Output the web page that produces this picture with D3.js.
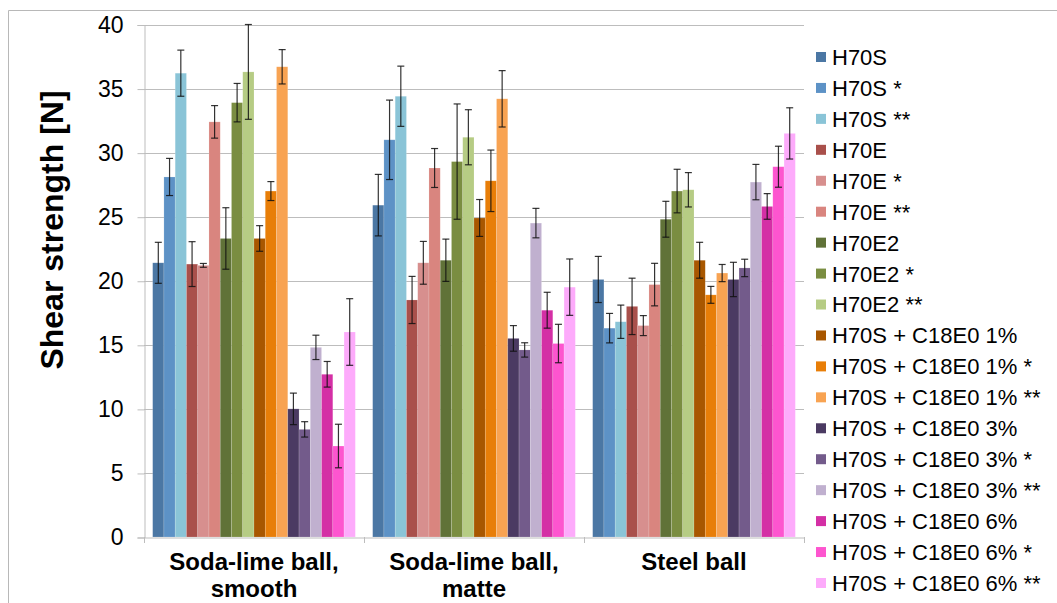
<!DOCTYPE html>
<html>
<head>
<meta charset="utf-8">
<script src="https://cdn.jsdelivr.net/npm/d3@7"></script>
<style>
  html, body { margin: 0; padding: 0; background: #fff; }
  svg { display: block; }
  text { font-family: "Liberation Sans", Arial, Helvetica, sans-serif; fill: #000; }
</style>
</head>
<body>
<svg id="chart" width="1057" height="603"></svg>
<script>
// ---------- data ----------
const categories = ["Soda-lime ball, smooth", "Soda-lime ball, matte", "Steel ball"];
const categoryLines = [["Soda-lime ball,", "smooth"], ["Soda-lime ball,", "matte"], ["Steel ball"]];
const series = [
  "H70S", "H70S *", "H70S **",
  "H70E", "H70E *", "H70E **",
  "H70E2", "H70E2 *", "H70E2 **",
  "H70S + C18E0 1%", "H70S + C18E0 1% *", "H70S + C18E0 1% **",
  "H70S + C18E0 3%", "H70S + C18E0 3% *", "H70S + C18E0 3% **",
  "H70S + C18E0 6%", "H70S + C18E0 6% *", "H70S + C18E0 6% **"
];
const colors = [
  "#4b77a4", "#5d92c6", "#8ac4d7",
  "#a9504b", "#d78f8e", "#d9857f",
  "#607238", "#7a8d41", "#b6cc84",
  "#a85700", "#e87e08", "#f8a352",
  "#4b3a62", "#735b8b", "#c0b0cf",
  "#d42fa5", "#fd55cf", "#fdabfb"
];
const valuesSmooth = [21.4, 28.1, 36.2, 21.3, 21.2, 32.4, 23.3, 33.9, 36.3, 23.3, 27.0, 36.7, 10.0, 8.4, 14.8, 12.7, 7.1, 16.0];
const errorsSmooth = [1.6, 1.45, 1.8, 1.75, 0.15, 1.27, 2.4, 1.5, 3.7, 1.0, 0.74, 1.34, 1.23, 0.6, 0.95, 1.0, 1.7, 2.6];
const valuesMatte = [25.9, 31.0, 34.4, 18.5, 21.4, 28.8, 21.6, 29.3, 31.2, 24.9, 27.8, 34.2, 15.5, 14.6, 24.5, 17.7, 15.1, 19.5];
const errorsMatte = [2.4, 3.1, 2.35, 1.84, 1.67, 1.52, 1.65, 4.5, 2.15, 1.44, 2.4, 2.2, 1.0, 0.56, 1.15, 1.4, 1.5, 2.2];
const valuesSteel = [20.1, 16.3, 16.8, 18.0, 16.5, 19.7, 24.8, 27.0, 27.1, 21.6, 18.9, 20.6, 20.1, 21.0, 27.7, 25.8, 28.9, 31.5];
const errorsSteel = [1.8, 1.15, 1.3, 2.2, 0.78, 1.66, 1.4, 1.7, 1.34, 1.4, 0.66, 0.67, 1.34, 0.68, 1.38, 1.0, 1.6, 2.0];
const yTicks = [0, 5, 10, 15, 20, 25, 30, 35, 40];
const yTitle = "Shear strength [N]";

const groupValues = [valuesSmooth, valuesMatte, valuesSteel];
const groupErrors = [errorsSmooth, errorsMatte, errorsSteel];

// ---------- layout ----------
const svg = d3.select("#chart");
const plot = { left: 144, right: 804, top: 24.5, bottom: 537 };

const y = d3.scaleLinear().domain([0, 40]).range([plot.bottom, plot.top]);
const x0 = d3.scaleBand().domain(categories).range([plot.left, plot.right]).padding(0);
const x1 = d3.scaleBand().domain(series).range([0, x0.bandwidth()]).paddingInner(0).paddingOuter(0.77);
const color = d3.scaleOrdinal().domain(series).range(colors);

// outer chart border
svg.append("path")
  .attr("d", `M8.5,603 L8.5,10.5 L1057,10.5`)
  .attr("fill", "none").attr("stroke", "#b8b8b8").attr("stroke-width", 1);

// gridlines
svg.append("g").selectAll("line").data(yTicks.filter(d => d > 0)).join("line")
  .attr("x1", plot.left).attr("x2", plot.right)
  .attr("y1", d => Math.round(y(d)) + 0.5).attr("y2", d => Math.round(y(d)) + 0.5)
  .attr("stroke", "#bdbdbd").attr("stroke-width", 1);

// y axis
const yAxis = d3.axisLeft(y).tickValues(yTicks).tickSize(7).tickPadding(14).tickFormat(d3.format("d"));
const gy = svg.append("g").attr("transform", `translate(${plot.left + 0.5},0.5)`).call(yAxis);
gy.select(".domain").attr("stroke", "#bdbdbd");
gy.selectAll(".tick line").attr("stroke", "#bdbdbd");
gy.selectAll(".tick text").style("font-size", "23px").attr("fill", "#000")
  .style("font-family", "'Liberation Sans', Arial, sans-serif");

// bars
const groups = svg.append("g").selectAll("g").data(categories).join("g")
  .attr("transform", d => `translate(${x0(d)},0)`);

groups.each(function(cat, gi) {
  const g = d3.select(this);
  const data = series.map((s, i) => ({ s, v: groupValues[gi][i], e: groupErrors[gi][i] }));
  g.selectAll("rect").data(data).join("rect")
    .attr("x", d => x1(d.s))
    .attr("y", d => y(d.v))
    .attr("width", x1.bandwidth())
    .attr("height", d => y(0) - y(d.v))
    .attr("fill", d => color(d.s))
    .attr("stroke", "rgba(255,255,255,0.25)").attr("stroke-width", 0.6);

  const eb = g.selectAll("g.err").data(data).join("g").attr("class", "err")
    .attr("stroke", "#111").attr("stroke-width", 1.2).attr("stroke-opacity", 0.85);
  eb.append("line")
    .attr("x1", d => x1(d.s) + x1.bandwidth() / 2).attr("x2", d => x1(d.s) + x1.bandwidth() / 2)
    .attr("y1", d => y(Math.min(40, d.v + d.e))).attr("y2", d => y(d.v - d.e));
  eb.append("line")
    .attr("x1", d => x1(d.s) + x1.bandwidth() / 2 - 3.5).attr("x2", d => x1(d.s) + x1.bandwidth() / 2 + 3.5)
    .attr("y1", d => y(d.v + d.e)).attr("y2", d => y(d.v + d.e))
    .attr("display", d => d.v + d.e > 40 ? "none" : null);
  eb.append("line")
    .attr("x1", d => x1(d.s) + x1.bandwidth() / 2 - 3.5).attr("x2", d => x1(d.s) + x1.bandwidth() / 2 + 3.5)
    .attr("y1", d => y(d.v - d.e)).attr("y2", d => y(d.v - d.e));
});

// x axis
const xAxis = d3.axisBottom(x0).tickSize(0).tickFormat("");
const gx = svg.append("g").attr("transform", `translate(0,${plot.bottom + 0.5})`).call(xAxis);
gx.select(".domain").attr("stroke", "#bdbdbd");
// boundary ticks
const bounds = categories.map(c => x0(c)).concat([x0(categories[categories.length - 1]) + x0.bandwidth()]);
svg.append("g").selectAll("line").data(bounds).join("line")
  .attr("x1", d => Math.round(d) + 0.5).attr("x2", d => Math.round(d) + 0.5)
  .attr("y1", plot.bottom).attr("y2", plot.bottom + 6)
  .attr("stroke", "#bdbdbd");

// category labels
svg.append("g").selectAll("text").data(categories).join("text")
  .attr("text-anchor", "middle")
  .style("font-size", "24px").style("font-weight", "bold")
  .each(function(c, i) {
    const t = d3.select(this);
    categoryLines[i].forEach((line, li) => {
      t.append("tspan").attr("x", x0(c) + x0.bandwidth() / 2).attr("y", 570 + li * 27).text(line);
    });
  });

// y title
svg.append("text")
  .attr("transform", `translate(63,230) rotate(-90)`)
  .attr("text-anchor", "middle")
  .style("font-size", "32px").style("font-weight", "bold")
  .text(yTitle);

// legend
const legend = svg.append("g").selectAll("g").data(series).join("g")
  .attr("transform", (d, i) => `translate(816,${57 + i * 30.94})`);
legend.append("rect").attr("x", 0).attr("y", -5).attr("width", 10).attr("height", 10)
  .attr("fill", d => color(d));
legend.append("text").attr("x", 16).attr("y", 0).attr("dy", "0.36em")
  .style("font-size", "22px").text(d => d);
</script>
</body>
</html>
